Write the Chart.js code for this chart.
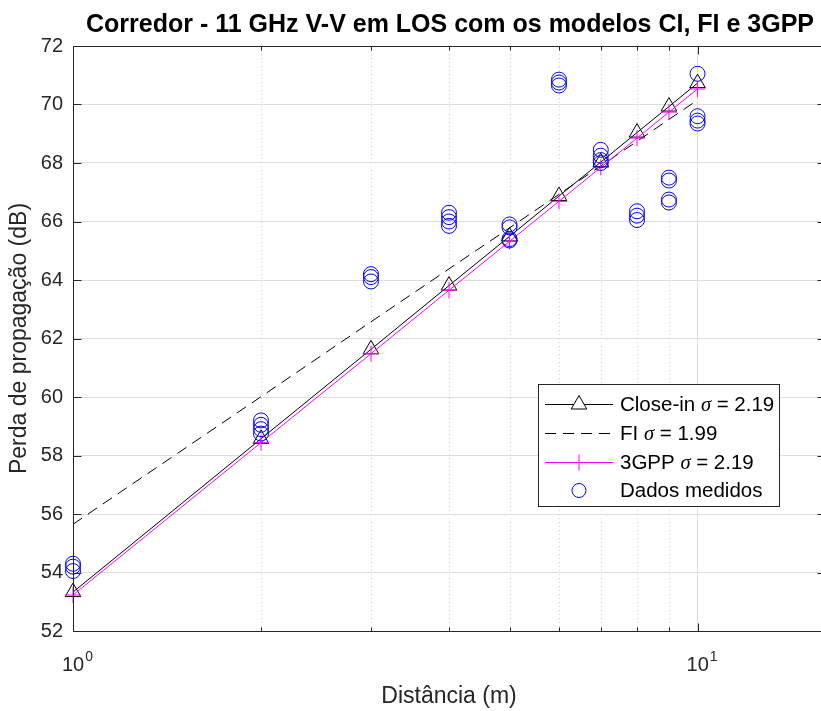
<!DOCTYPE html>
<html>
<head>
<meta charset="utf-8">
<script src="https://cdn.jsdelivr.net/npm/chart.js@4.4.0/dist/chart.umd.min.js"></script>
<style>
html, body { margin: 0; padding: 0; overflow: hidden; background: #fff; }
canvas { display: block; }
</style>
</head>
<body>
<canvas id="myChart" width="825" height="711"></canvas>
<script>
// distances (m) used by the model lines
var distances = [1, 2, 3, 4, 5, 6, 7, 8, 9, 10];
// model values (dB)
var ciValues   = [53.33, 58.57, 61.63, 63.81, 65.49, 66.87, 68.03, 69.04, 69.93, 70.73];
var fiValues   = [55.65, 60.01, 62.57, 64.38, 65.78, 66.93, 67.90, 68.74, 69.49, 70.15];
var gppValues  = [53.23, 58.44, 61.48, 63.65, 65.32, 66.69, 67.85, 68.85, 69.74, 70.53];
// measured samples
var measDist = [1, 1, 1,
                2, 2, 2, 2,
                3, 3, 3,
                4, 4, 4, 4,
                5, 5, 5, 5,
                6, 6, 6,
                7, 7, 7, 7,
                8, 8, 8,
                9, 9, 9, 9,
                10, 10, 10, 10];
var measLoss = [54.3, 54.2, 54.05,
                59.2, 59.05, 58.9, 58.75,
                64.2, 64.1, 63.95,
                66.3, 66.15, 66.0, 65.85,
                65.9, 65.8, 65.4, 65.35,
                70.85, 70.75, 70.65,
                68.45, 68.25, 68.1, 68.0,
                66.35, 66.2, 66.05,
                67.5, 67.4, 66.75, 66.65,
                71.05, 69.6, 69.45, 69.35];
var yTicks = [52, 54, 56, 58, 60, 62, 64, 66, 68, 70, 72];
var xMajor = [1, 10];
var xMinor = [2, 3, 4, 5, 6, 7, 8, 9];
var xTickExp = ['0', '1'];

var titleText = 'Corredor - 11 GHz V-V em LOS com os modelos CI, FI e 3GPP';
var legendRows = [
  ['Close-in ', ' = 2.19'],
  ['FI ', ' = 1.99'],
  ['3GPP ', ' = 2.19'],
  ['Dados medidos', null]
];

function pts(xs, ys) {
  return xs.map(function (x, i) { return { x: x, y: ys[i] }; });
}

var axisColor = '#262626';
var gridColor = '#dedede';
var sans = '"Liberation Sans", Arial, sans-serif';

// MATLAB style box, inward ticks, dotted minor grid, title and legend
var matlabLook = {
  id: 'matlabLook',
  beforeDatasetsDraw: function (chart) {
    var ctx = chart.ctx, a = chart.chartArea, x = chart.scales.x;
    ctx.save();
    ctx.strokeStyle = '#cfcfcf';
    ctx.lineWidth = 1;
    ctx.setLineDash([1, 3]);
    xMinor.forEach(function (v) {
      var px = Math.round(x.getPixelForValue(v)) + 0.5;
      ctx.beginPath(); ctx.moveTo(px, a.top); ctx.lineTo(px, a.bottom); ctx.stroke();
    });
    ctx.restore();
  },
  afterDraw: function (chart) {
    var ctx = chart.ctx, a = chart.chartArea, x = chart.scales.x, y = chart.scales.y;
    var L = Math.round(a.left) + 0.5, R = Math.round(a.right) + 0.5;
    var T = Math.round(a.top) + 0.5, B = Math.round(a.bottom) + 0.5;
    ctx.save();
    ctx.strokeStyle = axisColor;
    ctx.lineWidth = 1;
    ctx.beginPath();
    ctx.rect(L, T, R - L, B - T);
    // ticks pointing inward
    xMajor.concat(xMinor).forEach(function (v) {
      var px = Math.round(x.getPixelForValue(v)) + 0.5;
      var len = xMajor.indexOf(v) >= 0 ? 8 : 4;
      ctx.moveTo(px, B); ctx.lineTo(px, B - len);
      ctx.moveTo(px, T); ctx.lineTo(px, T + len);
    });
    yTicks.forEach(function (v) {
      var py = Math.round(y.getPixelForValue(v)) + 0.5;
      ctx.moveTo(L, py); ctx.lineTo(L + 8, py);
      ctx.moveTo(R, py); ctx.lineTo(R - 8, py);
    });
    ctx.stroke();

    // x tick labels as 10 with a raised exponent
    ctx.fillStyle = axisColor;
    ctx.textBaseline = 'alphabetic';
    ctx.textAlign = 'left';
    xMajor.forEach(function (v, i) {
      var px = x.getPixelForValue(v);
      ctx.font = '20px ' + sans;
      var wb = ctx.measureText('10').width;
      ctx.font = '14px ' + sans;
      var we = ctx.measureText(xTickExp[i]).width;
      var sx = px - (wb + we) / 2 + 4;
      ctx.font = '20px ' + sans;
      ctx.fillText('10', sx, 671);
      ctx.font = '14px ' + sans;
      ctx.fillText(xTickExp[i], sx + wb + 1, 661);
    });

    // title
    ctx.fillStyle = '#000';
    ctx.font = 'bold 25px ' + sans;
    ctx.textAlign = 'center';
    ctx.fillText(titleText, 450, 32);

    // legend box
    var bx = 538.5, by = 384.5, bw = 241, bh = 122;
    ctx.fillStyle = '#fff';
    ctx.fillRect(bx, by, bw, bh);
    ctx.strokeStyle = axisColor;
    ctx.strokeRect(bx, by, bw, bh);
    var rowY = [404.5, 433.5, 462.5, 490.5];
    var x0 = 545, x1 = 613, xm = 579;
    // Close-in
    ctx.strokeStyle = '#000';
    ctx.beginPath(); ctx.moveTo(x0, rowY[0]); ctx.lineTo(x1, rowY[0]); ctx.stroke();
    ctx.beginPath();
    ctx.moveTo(xm, rowY[0] - 9); ctx.lineTo(xm + 7.8, rowY[0] + 4.5); ctx.lineTo(xm - 7.8, rowY[0] + 4.5); ctx.closePath();
    ctx.fillStyle = '#fff'; ctx.fill(); ctx.stroke();
    // FI
    ctx.setLineDash([11, 7]);
    ctx.beginPath(); ctx.moveTo(x0, rowY[1]); ctx.lineTo(x1, rowY[1]); ctx.stroke();
    ctx.setLineDash([]);
    // 3GPP
    ctx.strokeStyle = '#ff00ff';
    ctx.beginPath(); ctx.moveTo(x0, rowY[2]); ctx.lineTo(x1, rowY[2]);
    ctx.moveTo(xm, rowY[2] - 8); ctx.lineTo(xm, rowY[2] + 8);
    ctx.stroke();
    // Dados medidos
    ctx.strokeStyle = '#0000ff';
    ctx.beginPath(); ctx.arc(xm, rowY[3], 7, 0, Math.PI * 2); ctx.stroke();

    ctx.fillStyle = '#000';
    ctx.textAlign = 'left';
    ctx.textBaseline = 'middle';
    legendRows.forEach(function (r, i) {
      var tx = 620, ty = rowY[i] + 1;
      ctx.font = '20.5px ' + sans;
      ctx.fillText(r[0], tx, ty);
      if (r[1] === null) return;
      tx += ctx.measureText(r[0]).width;
      ctx.font = 'italic 20.5px "Liberation Serif", serif';
      ctx.fillText('\u03c3', tx, ty);
      tx += ctx.measureText('\u03c3').width;
      ctx.font = '20.5px ' + sans;
      ctx.fillText(r[1], tx, ty);
    });
    ctx.restore();
  }
};

new Chart('myChart', {
  type: 'scatter',
  data: {
    datasets: [
      {
        label: 'Dados medidos',
        data: pts(measDist, measLoss),
        showLine: false,
        pointStyle: 'circle',
        pointRadius: 7.5,
        pointBorderWidth: 1,
        pointBorderColor: '#0000ff',
        pointBackgroundColor: 'rgba(0,0,0,0)',
        clip: false,
        order: 0
      },
      {
        label: 'Close-in',
        data: pts(distances, ciValues),
        showLine: true,
        borderColor: '#000',
        borderWidth: 1,
        pointStyle: 'triangle',
        pointRadius: 9,
        pointBorderWidth: 1,
        pointBorderColor: '#000',
        pointBackgroundColor: 'rgba(0,0,0,0)',
        clip: false,
        order: 3
      },
      {
        label: 'FI',
        data: pts(distances, fiValues),
        showLine: true,
        borderColor: '#000',
        borderWidth: 1,
        borderDash: [11, 7],
        pointRadius: 0,
        clip: false,
        order: 2
      },
      {
        label: '3GPP',
        data: pts(distances, gppValues),
        showLine: true,
        borderColor: '#ff00ff',
        borderWidth: 1,
        pointStyle: 'cross',
        pointRadius: 8,
        pointBorderWidth: 1,
        pointBorderColor: '#ff00ff',
        clip: false,
        order: 1
      }
    ]
  },
  options: {
    responsive: false,
    animation: false,
    layout: { autoPadding: false, padding: { top: 46, right: 0, left: 0, bottom: 0 } },
    plugins: {
      legend: { display: false },
      tooltip: { enabled: false }
    },
    scales: {
      x: {
        type: 'logarithmic',
        min: 1,
        max: 16,
        afterBuildTicks: function (s) { s.ticks = xMajor.map(function (v) { return { value: v }; }); },
        afterFit: function (s) {
          s.height = 80;
          s.paddingLeft = 0;
          s.paddingRight = 0;
        },
        ticks: { display: false },
        grid: { color: gridColor, drawTicks: false },
        border: { display: false },
        title: {
          display: true,
          text: 'Distância (m)',
          color: axisColor,
          font: { family: sans, size: 23 },
          padding: { top: 0, bottom: 1 }
        }
      },
      y: {
        min: 52,
        max: 72,
        afterBuildTicks: function (s) { s.ticks = yTicks.map(function (v) { return { value: v }; }); },
        afterFit: function (s) {
          s.width = 73;
          s.paddingTop = 0;
          s.paddingBottom = 0;
        },
        ticks: {
          padding: 10,
          color: axisColor,
          font: { family: sans, size: 20 }
        },
        grid: { color: gridColor, drawTicks: false },
        border: { display: false },
        title: {
          display: true,
          text: 'Perda de propagação (dB)',
          color: axisColor,
          font: { family: sans, size: 23 },
          padding: { top: 6, bottom: 0 }
        }
      }
    }
  },
  plugins: [matlabLook]
});
</script>
</body>
</html>
